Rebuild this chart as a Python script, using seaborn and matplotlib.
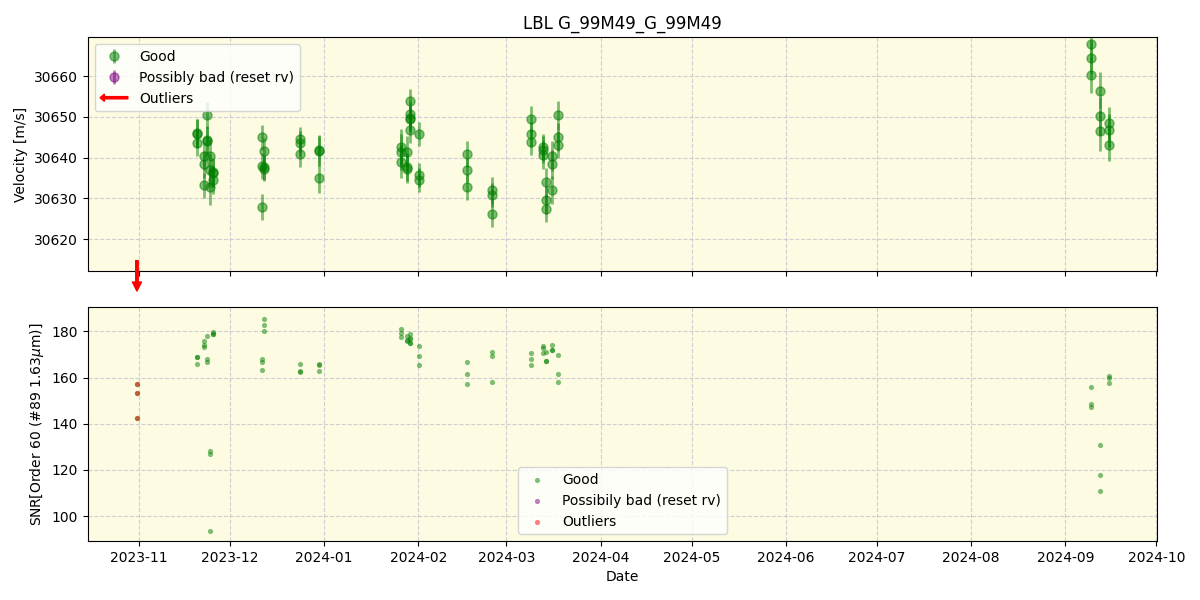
import matplotlib
matplotlib.use("Agg")
import matplotlib.pyplot as plt
import matplotlib.dates as mdates
import matplotlib.patches as mpatches
from matplotlib.legend_handler import HandlerBase
import seaborn as sns
import pandas as pd
import numpy as np

title = "LBL G_99M49_G_99M49"

good_dates = [
    "2023-11-20 03:00", "2023-11-20 03:00", "2023-11-20 03:00",
    "2023-11-22 10:00", "2023-11-22 10:00", "2023-11-22 10:00",
    "2023-11-23 10:00", "2023-11-23 10:00", "2023-11-23 10:00",
    "2023-11-24 10:00", "2023-11-24 10:00", "2023-11-24 10:00",
    "2023-11-25 10:00", "2023-11-25 10:00", "2023-11-25 10:00",
    "2023-12-11 12:00", "2023-12-11 12:00", "2023-12-11 12:00",
    "2023-12-12 05:00", "2023-12-12 05:00", "2023-12-12 05:00",
    "2023-12-24 00:00", "2023-12-24 00:00", "2023-12-24 00:00",
    "2023-12-30 07:00", "2023-12-30 07:00", "2023-12-30 07:00",
    "2024-01-26 03:00", "2024-01-26 03:00", "2024-01-26 03:00",
    "2024-01-28 05:00", "2024-01-28 05:00", "2024-01-28 05:00",
    "2024-01-29 03:00", "2024-01-29 03:00", "2024-01-29 03:00", "2024-01-29 03:00", "2024-01-29 03:00",
    "2024-02-01 03:00", "2024-02-01 03:00", "2024-02-01 03:00",
    "2024-02-17 00:00", "2024-02-17 00:00", "2024-02-17 00:00",
    "2024-02-25 05:00", "2024-02-25 05:00", "2024-02-25 05:00",
    "2024-03-09 00:00", "2024-03-09 00:00", "2024-03-09 00:00",
    "2024-03-13 00:00", "2024-03-13 00:00", "2024-03-13 00:00",
    "2024-03-13 22:00", "2024-03-13 22:00", "2024-03-13 22:00",
    "2024-03-15 22:00", "2024-03-15 22:00", "2024-03-15 22:00",
    "2024-03-17 22:00", "2024-03-17 22:00", "2024-03-17 22:00",
    "2024-09-09 10:00", "2024-09-09 10:00", "2024-09-09 10:00",
    "2024-09-12 07:00", "2024-09-12 07:00", "2024-09-12 07:00",
    "2024-09-15 10:00", "2024-09-15 10:00", "2024-09-15 10:00",
]

good_rv = [
    30646.1, 30645.9, 30643.7,
    30640.4, 30638.4, 30633.2,
    30650.4, 30644.3, 30644.0,
    30640.5, 30636.9, 30632.8,
    30636.4, 30634.5, 30636.2,
    30645.0, 30637.9, 30627.8,
    30641.6, 30637.6, 30637.3,
    30644.5, 30643.5, 30640.8,
    30642.0, 30641.6, 30634.9,
    30642.6, 30641.4, 30639.0,
    30641.4, 30637.7, 30637.3,
    30653.9, 30650.8, 30649.8, 30649.4, 30646.7,
    30645.8, 30635.7, 30634.5,
    30640.9, 30636.9, 30632.7,
    30632.0, 30630.8, 30626.1,
    30649.4, 30645.7, 30643.9,
    30642.6, 30642.0, 30640.6,
    30633.9, 30629.6, 30627.5,
    30640.4, 30638.4, 30632.0,
    30650.4, 30645.0, 30643.2,
    30667.9, 30664.6, 30660.2,
    30656.5, 30650.2, 30646.6,
    30648.4, 30646.7, 30643.2,
]

good_err = [
    3.5, 3.6, 3.4,
    3.5, 3.3, 3.0,
    3.2, 3.5, 3.6,
    4.0, 4.0, 4.5,
    3.5, 3.4, 3.5,
    3.0, 3.2, 3.2,
    3.2, 3.0, 3.0,
    3.0, 3.0, 3.2,
    3.6, 3.6, 3.5,
    4.5, 4.5, 4.0,
    3.8, 3.5, 3.5,
    3.0, 3.0, 3.0, 3.0, 3.0,
    3.0, 3.0, 3.0,
    3.2, 3.0, 3.2,
    3.2, 3.0, 3.2,
    3.2, 3.0, 3.2,
    3.3, 3.3, 3.4,
    3.5, 3.4, 3.4,
    3.6, 3.6, 3.5,
    3.5, 3.4, 3.4,
    4.0, 4.0, 4.3,
    4.5, 4.6, 5.0,
    4.0, 4.0, 4.0,
]

good_snr = [
    169.0, 168.8, 166.0,
    175.7, 174.2, 173.2,
    178.1, 168.2, 166.7,
    128.0, 127.1, 93.4,
    179.7, 179.0, 178.8,
    168.2, 166.5, 163.4,
    185.5, 182.9, 180.3,
    166.0, 162.8, 162.3,
    165.9, 165.6, 162.6,
    180.9, 179.4, 177.7,
    177.8, 176.1, 176.0,
    178.7, 177.3, 175.1, 175.0, 176.5,
    173.8, 169.5, 165.2,
    166.5, 161.7, 157.0,
    171.2, 169.1, 158.2,
    170.8, 168.2, 165.6,
    173.5, 172.8, 170.8,
    171.2, 167.2, 167.0,
    174.2, 172.1, 172.0,
    169.9, 161.3, 158.2,
    156.1, 148.4, 147.3,
    131.0, 118.0, 111.1,
    160.7, 159.8, 157.8,
]

outlier_dates = ["2023-10-31 08:00", "2023-10-31 08:00", "2023-10-31 08:00"]
outlier_snr = [157.4, 153.1, 142.7]

bad_dates = []
bad_rv = []
bad_err = []
bad_snr = []

good = pd.DataFrame({"date": pd.to_datetime(good_dates), "rv": good_rv,
                     "err": good_err, "snr": good_snr})
outl = pd.DataFrame({"date": pd.to_datetime(outlier_dates), "snr": outlier_snr})
allpts = pd.concat([good[["date", "snr"]], outl], ignore_index=True)

FACE = "#fdfbe1"

fig, (ax1, ax2) = plt.subplots(2, 1, figsize=(12, 6), dpi=100, sharex=True)
fig.subplots_adjust(left=0.073, right=0.964, top=0.938, bottom=0.098, hspace=0.154)

for ax in (ax1, ax2):
    ax.set_facecolor(FACE)
    ax.grid(True, linestyle="--", color="#bcbccc", alpha=0.7, linewidth=0.8)
    ax.set_axisbelow(True)

# Top panel: velocities with error bars
eb_good = ax1.errorbar(good["date"], good["rv"], yerr=good["err"], fmt="o",
                       color="green", alpha=0.5, markersize=6.5, elinewidth=2,
                       label="Good")
eb_bad = ax1.errorbar(pd.to_datetime(bad_dates), bad_rv, yerr=bad_err, fmt="o",
                      color="purple", alpha=0.5, markersize=6.5, elinewidth=2,
                      label="Possibly bad (reset rv)")

# outlier arrow (value is below the plotted range)
xo = mdates.date2num(outl["date"].iloc[0])
ax1.annotate("", xy=(xo, -0.085), xytext=(xo, 0.045),
             xycoords=("data", "axes fraction"), textcoords=("data", "axes fraction"),
             arrowprops=dict(facecolor="red", edgecolor="red", width=1.8,
                             headwidth=6.5, headlength=6.5),
             annotation_clip=False)


class HandlerArrow(HandlerBase):
    def create_artists(self, legend, orig_handle, xdescent, ydescent, width,
                       height, fontsize, trans):
        p = mpatches.FancyArrow(width, 0.5 * height, -width, 0,
                                length_includes_head=True, width=1.6,
                                head_width=0.75 * height, head_length=0.45 * height,
                                color="red")
        p.set_transform(trans)
        return [p]


arrow_handle = mpatches.FancyArrow(0, 0, 1, 0, color="red")
ax1.legend([eb_good, eb_bad, arrow_handle],
           ["Good", "Possibly bad (reset rv)", "Outliers"],
           handler_map={mpatches.FancyArrow: HandlerArrow()},
           loc="upper left")

ax1.set_ylim(30612.1, 30669.6)
ax1.set_yticks([30620, 30630, 30640, 30650, 30660])
ax1.set_ylabel("Velocity [m/s]")
ax1.set_title(title)
ax1.tick_params(labelbottom=False)

# Bottom panel: SNR
sns.scatterplot(data=allpts, x="date", y="snr", color="green", alpha=0.5,
                s=14, linewidth=0, ax=ax2, label="Good")
ax2.scatter(pd.to_datetime(bad_dates), bad_snr, color="purple", alpha=0.5,
            s=14, linewidth=0, label="Possibily bad (reset rv)")
sns.scatterplot(data=outl, x="date", y="snr", color="red", alpha=0.5,
                s=14, linewidth=0, ax=ax2, label="Outliers")
ax2.legend(loc="lower center")
ax2.set_ylim(89.2, 190.4)
ax2.set_yticks([100, 120, 140, 160, 180])
ax2.set_ylabel(r"SNR[Order 60 (#89 1.63$\mu$m)]")
ax2.set_xlabel("Date")

ax2.set_xlim(pd.Timestamp("2023-10-15 02:00"), pd.Timestamp("2024-10-01 03:00"))
ax2.xaxis.set_major_locator(mdates.MonthLocator())
ax2.xaxis.set_major_formatter(mdates.DateFormatter("%Y-%m"))

fig.savefig("out.png", dpi=100)
